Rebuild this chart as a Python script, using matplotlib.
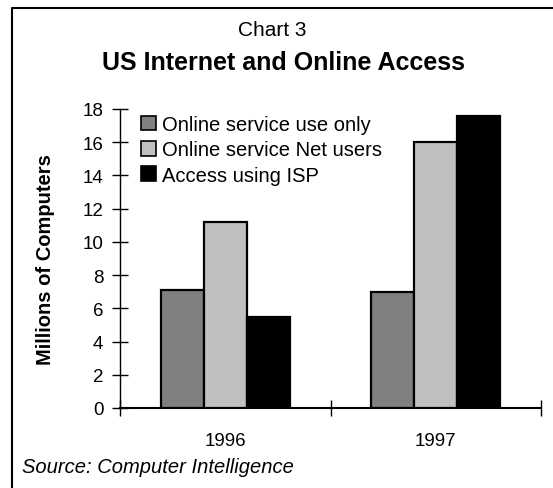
import numpy as np
import matplotlib
matplotlib.use("Agg")
import matplotlib.pyplot as plt
from matplotlib.lines import Line2D

plt.rcParams['font.family'] = ['Liberation Sans', 'DejaVu Sans']

# data
years = ['1996', '1997']
series_names = ['Online service use only', 'Online service Net users', 'Access using ISP']
online_only = [7.1, 7.0]
online_net = [11.2, 16.0]
isp_access = [5.5, 17.6]
y_ticks = [0, 2, 4, 6, 8, 10, 12, 14, 16, 18]

colors = ['#808080', '#c0c0c0', '#000000']

W, H = 553, 489
fig = plt.figure(figsize=(W / 100, H / 100), dpi=100)

# axes box in pixels: x 120..541, y 110..409
ax = fig.add_axes([120 / W, (H - 409) / H, 421 / W, 299 / H])

x = np.arange(len(years))
bw = 0.204
for i, vals in enumerate([online_only, online_net, isp_access]):
    ax.bar(x + (i - 1) * bw, vals, bw, color=colors[i], edgecolor='black',
           linewidth=1.6, label=series_names[i], zorder=3)

ax.set_xlim(-0.5, 1.5)
ax.set_ylim(0, 18)
ax.set_yticks(y_ticks)
ax.tick_params(axis='y', direction='inout', length=12, width=1, labelsize=13.5, pad=6)
# x ticks sit on the category borders, labels in the middle
ax.set_xticks([-0.5, 0.5, 1.5])
ax.set_xticklabels([])
ax.set_xticks(x, minor=True)
ax.set_xticklabels(years, minor=True, fontsize=13.5)
ax.tick_params(axis='x', which='major', direction='inout', length=12, width=1)
ax.tick_params(axis='x', which='minor', length=0, pad=17)

for side in ['top', 'right']:
    ax.spines[side].set_visible(False)
ax.spines['left'].set_linewidth(1)
ax.spines['bottom'].set_linewidth(1.5)

ax.set_ylabel('Millions of Computers', fontsize=14.5, fontweight='bold')
ax.yaxis.set_label_coords((55 - 120) / 421, 0.5)

leg = ax.legend(loc='upper left', bbox_to_anchor=(141 / W, (H - 116) / H),
                bbox_transform=fig.transFigure, frameon=False, fontsize=14.5,
                handlelength=0.75, handleheight=0.75, handletextpad=0.3,
                labelspacing=0.32, borderaxespad=0, borderpad=0)
for h in leg.legend_handles:
    h.set_linewidth(1.2)

fig.text(272 / W, 1 - 31 / H, 'Chart 3', ha='center', va='center', fontsize=15)
fig.text(283 / W, 1 - 63 / H, 'US Internet and Online Access', ha='center', va='center',
         fontsize=18, fontweight='bold')
fig.text(22 / W, 1 - 468 / H, 'Source: Computer Intelligence', ha='left', va='center',
         fontsize=14.5, style='italic')

# outer frame: only top and left edges visible
fig.lines.append(Line2D([12 / W, 12 / W, 1], [0, 1 - 9 / H, 1 - 9 / H],
                        transform=fig.transFigure, color='black', linewidth=1.5))

fig.savefig('out.png', dpi=100)
